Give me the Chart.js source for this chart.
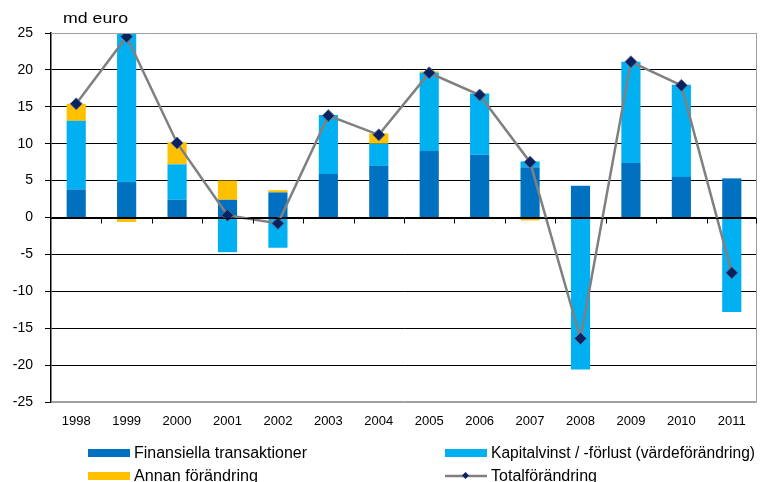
<!DOCTYPE html>
<html>
<head>
<meta charset="utf-8">
<script src="https://cdn.jsdelivr.net/npm/chart.js@4"></script>
<style>
  body { margin: 0; background: #fff; overflow: hidden; }
  #wrap { position: relative; width: 761px; height: 482px; font-family: "Liberation Sans", Arial, sans-serif; }
  canvas { display: block; }
  #unit { position: absolute; left: 63px; top: 10px; font-size: 14px; color: #000; transform-origin: left center; white-space: nowrap; }
  #legend { position: absolute; left: 0; top: 0; width: 761px; height: 482px; pointer-events: none; }
  .item { position: absolute; height: 20px; display: flex; align-items: center; font-size: 16px; color: #000; white-space: nowrap; }
  .swatch { width: 42px; height: 8px; margin-right: 4px; flex: none; }
  .text { display: inline-block; transform-origin: left center; }
</style>
</head>
<body>
<div id="wrap">
  <canvas id="chart" width="761" height="482"></canvas>
  <div id="unit">md euro</div>
  <div id="legend"></div>
</div>
<script>
const years = ['1998', '1999', '2000', '2001', '2002', '2003', '2004', '2005', '2006', '2007', '2008', '2009', '2010', '2011'];
const finansiella = [3.8, 4.8, 2.4, 2.4, 3.4, 5.9, 7.0, 9.0, 8.5, 6.8, 4.3, 7.4, 5.5, 5.3];
const kapital = [9.3, 20.3, 4.8, -4.7, -4.1, 8.0, 3.0, 10.6, 8.3, 0.8, -20.6, 13.7, 12.5, -12.8];
const annan = [2.3, -0.6, 3.0, 2.6, 0.3, 0, 1.4, 0.2, 0, -0.4, 0, 0, 0, 0];
const total = [15.4, 24.5, 10.1, 0.3, -0.8, 13.8, 11.2, 19.6, 16.6, 7.5, -16.4, 21.1, 17.9, -7.5];

const colors = {
  fin: '#0070C0',
  kap: '#00B0F0',
  annan: '#FFC000',
  line: '#808080',
  marker: '#0B2260'
};

// Nollinje med streck mellan kategorierna + ram runt ritytan
const axisPlugin = {
  id: 'axisPlugin',
  afterDatasetsDraw(chart) {
    const { ctx, chartArea, scales: { x, y } } = chart;
    const y0 = Math.round(y.getPixelForValue(0)) + 0.5;
    ctx.save();
    ctx.strokeStyle = '#a0a0a0';
    ctx.lineWidth = 1;
    ctx.beginPath();
    ctx.moveTo(chartArea.left, chartArea.top + 0.5);
    ctx.lineTo(chartArea.right - 0.5, chartArea.top + 0.5);
    ctx.lineTo(chartArea.right - 0.5, chartArea.bottom - 0.5);
    ctx.lineTo(chartArea.left, chartArea.bottom - 0.5);
    ctx.stroke();
    ctx.strokeStyle = '#000';
    ctx.beginPath();
    ctx.moveTo(chartArea.left, y0);
    ctx.lineTo(chartArea.right, y0);
    for (let i = 1; i <= years.length; i++) {
      const px = i < years.length
        ? Math.round((x.getPixelForValue(i - 1) + x.getPixelForValue(i)) / 2) + 0.5
        : chartArea.right - 0.5;
      ctx.moveTo(px, y0);
      ctx.lineTo(px, y0 + 5);
    }
    ctx.stroke();
    ctx.restore();
  }
};

const datasets = [
  { type: 'bar', label: 'Finansiella transaktioner', data: finansiella, backgroundColor: colors.fin, stack: 'bars', order: 1 },
  { type: 'bar', label: 'Kapitalvinst / -förlust (värdeförändring)', data: kapital, backgroundColor: colors.kap, stack: 'bars', order: 1 },
  { type: 'bar', label: 'Annan förändring', data: annan, backgroundColor: colors.annan, stack: 'bars', order: 1 },
  {
    type: 'line', label: 'Totalförändring', data: total, stack: 'line', order: 0,
    borderColor: colors.line, borderWidth: 2.5, tension: 0,
    pointStyle: 'rectRot', pointRadius: 6, pointHoverRadius: 6,
    pointBackgroundColor: colors.marker, pointBorderColor: '#5a6a8a', pointBorderWidth: 1
  }
];

new Chart(document.getElementById('chart'), {
  data: { labels: years, datasets: datasets },
  plugins: [axisPlugin],
  options: {
    responsive: false,
    animation: false,
    layout: { autoPadding: false, padding: { top: 33, right: 4, bottom: 50, left: 0 } },
    datasets: { bar: { barPercentage: 0.38, categoryPercentage: 1 } },
    plugins: { legend: { display: false }, tooltip: { enabled: false } },
    scales: {
      x: {
        stacked: true,
        grid: { display: false },
        border: { display: false },
        ticks: { color: '#000', padding: 4, font: { family: 'Liberation Sans', size: 13 } },
        afterFit: scale => { scale.height = 30; }
      },
      y: {
        stacked: true,
        min: -25,
        max: 25,
        ticks: { stepSize: 5, color: '#000', padding: 12, font: { family: 'Liberation Sans', size: 14 } },
        grid: {
          color: ctx => (ctx.tick && Math.abs(ctx.tick.value) === 25) ? '#a0a0a0' : '#000',
          tickColor: '#000',
          tickLength: 6,
          lineWidth: 1
        },
        border: { color: '#000', width: 1.5 },
        afterFit: scale => { scale.width = 51; }
      }
    }
  }
});

// Sträck ut en text till önskad bredd
function fitWidth(el, target) {
  const w = el.getBoundingClientRect().width;
  if (w > 0) el.style.transform = `scaleX(${target / w})`;
}

fitWidth(document.getElementById('unit'), 65);

// Förklaring i två kolumner
const legend = document.getElementById('legend');
const positions = [[88, 443], [445, 443], [88, 466], [445, 466]];
const textWidths = [173, 264, 124, 106];
datasets.forEach((ds, i) => {
  const item = document.createElement('div');
  item.className = 'item';
  item.style.left = positions[i][0] + 'px';
  item.style.top = positions[i][1] + 'px';
  let sample;
  if (ds.type === 'line') {
    sample = `<svg width="42" height="12" style="margin-right:4px;flex:none"><line x1="0" y1="6" x2="42" y2="6" stroke="${ds.borderColor}" stroke-width="2.5"/><rect x="18" y="3" width="5" height="5" transform="rotate(45 20.5 5.5)" fill="${ds.pointBackgroundColor}"/></svg>`;
  } else {
    sample = `<span class="swatch" style="background:${ds.backgroundColor}"></span>`;
  }
  item.innerHTML = sample + `<span class="text">${ds.label}</span>`;
  legend.appendChild(item);
  fitWidth(item.querySelector('.text'), textWidths[i]);
});
</script>
</body>
</html>
